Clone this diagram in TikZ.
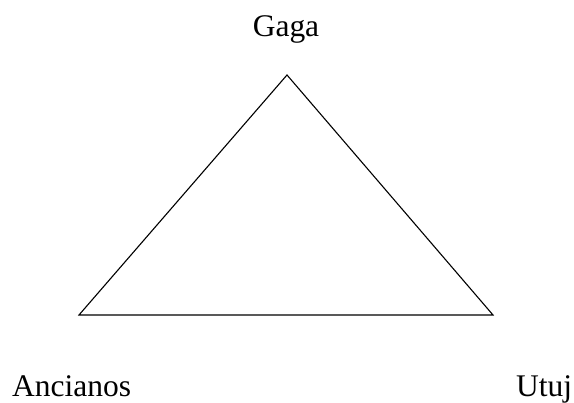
\documentclass[tikz,border=0pt]{standalone}
\usepackage{fontspec}
\setmainfont{Liberation Serif}
\begin{document}
\begin{tikzpicture}[x=1pt,y=1pt,
  lbl/.style={inner sep=0pt,font=\fontsize{31.5}{38}\selectfont},
  edge/.style={line width=1.1pt,line join=miter}]
\useasboundingbox (0,0) rectangle (574,403);
\coordinate (top) at (287,328);
\coordinate (bl) at (79,88);
\coordinate (br) at (493,88);
\node[lbl,anchor=base] (gaga) at (286,366) {Gaga};
\node[lbl,anchor=base west] (anc) at (12,6) {Ancianos};
\node[lbl,anchor=base west] (utuj) at (516,6) {Utuj};
\draw[edge] (top) -- (br) -- (bl) -- cycle;
\end{tikzpicture}
\end{document}
